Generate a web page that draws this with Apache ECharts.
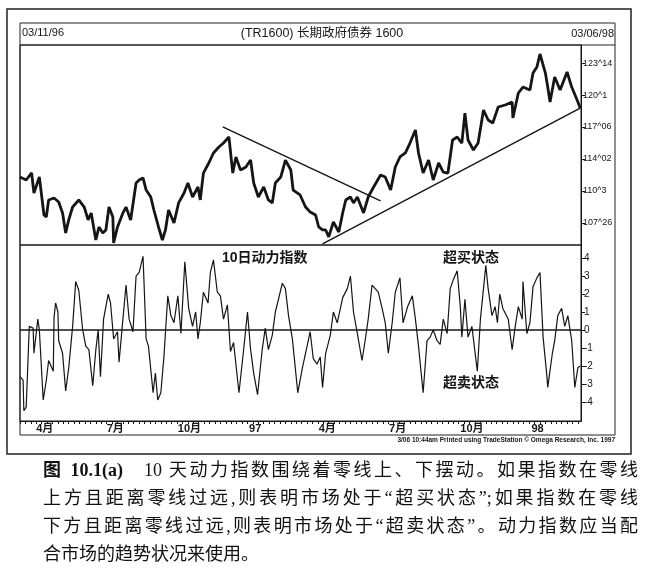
<!DOCTYPE html>
<html>
<head>
<meta charset="utf-8">
<title>10天动力指数</title>
<script src="https://cdn.jsdelivr.net/npm/echarts@6.0.0/dist/echarts.min.js"></script>
<style>
  html, body { margin: 0; padding: 0; background: #fff; }
  #wrap { position: relative; width: 646px; height: 579px; overflow: hidden; }
  #chart { position: absolute; left: 0; top: 0; width: 646px; height: 579px; }
  .cap { position: absolute; left: 43px; width: 595px; font-family: "Liberation Serif", "Noto Sans CJK SC", serif;
         font-size: 18px; line-height: 28px; height: 28px; color: #111; text-align: justify; text-align-last: justify; white-space: nowrap; }
  .cap.last { text-align-last: left; }
</style>
</head>
<body>
<div id="wrap">
  <div id="chart"></div>
  <div class="cap" style="top:456px"><b>图 10.1(a)</b>&nbsp;&nbsp; 10 天动力指数围绕着零线上、下摆动。如果指数在零线</div>
  <div class="cap" style="top:484px">上方且距离零线过远,则表明市场处于“超买状态”;如果指数在零线</div>
  <div class="cap" style="top:512px">下方且距离零线过远,则表明市场处于“超卖状态”。动力指数应当配</div>
  <div class="cap last" style="top:540px">合市场的趋势状况来使用。</div>
</div>
<script>
// x 轴: 自 1996-03-11 起的日历天数
var lastDay = 725;
var monthDays = [21, 112, 204, 296, 386, 477, 569, 661];
var monthLabels = ['4月', '7月', '10月', '97', '4月', '7月', '10月', '98'];

// 价格刻度 (1/32 报价)
var priceTicks = [107.8125, 110.9375, 114.0625, 117.1875, 120.3125, 123.4375];
var priceTickLabels = ['107^26', '110^3', '114^02', '117^06', '120^1', '123^14'];
var momTicks = [-4, -3, -2, -1, 0, 1, 2, 3, 4];

// 长期政府债券价格
var priceDays = [0,8,15,18,25,31,34,37,44,50,55,59,63,68,76,83,88,92,98,102,
  107,111,115,120,121,126,133,137,143,150,154,159,163,169,173,179,184,188,192,199,
  205,212,217,223,230,233,237,244,250,257,263,270,275,279,285,292,298,302,308,315,
  321,326,330,337,343,350,353,362,369,375,382,386,391,395,399,405,412,417,421,427,
  431,436,444,450,457,466,472,479,485,491,498,504,511,515,521,528,534,541,547,553,
  559,565,571,575,579,586,592,599,605,611,618,627,636,637,644,650,659,663,668,672,
  679,682,685,691,698,707,713,720,724];
var priceValues = [112.30,112.01,112.70,110.74,112.30,108.59,108.40,110.06,110.25,109.86,
  108.79,106.84,108.11,109.37,110.06,109.37,108.11,108.79,106.15,107.42,
  106.84,107.13,109.37,108.40,105.86,107.42,108.79,109.37,108.11,111.72,
  112.01,112.21,111.03,110.35,109.08,107.42,106.15,107.13,109.08,107.81,
  109.77,110.74,111.72,110.35,111.33,110.06,112.69,113.67,114.65,115.23,
  115.62,116.21,112.69,114.26,112.99,113.28,113.96,111.72,110.35,111.33,
  110.06,109.77,111.72,112.30,113.96,112.99,111.03,110.55,109.37,108.89,
  108.59,107.42,107.13,107.13,106.45,107.91,106.93,108.79,110.06,110.35,
  109.77,110.35,108.79,110.35,111.33,112.50,112.30,111.03,113.28,114.26,
  114.65,115.62,116.89,114.65,112.69,113.96,112.01,113.67,112.79,112.69,
  115.92,116.21,115.62,118.55,115.92,114.94,115.62,118.85,117.87,117.58,
  119.14,119.34,119.63,118.07,120.51,121.09,120.80,122.46,123.05,124.32,
  122.46,121.09,119.63,122.07,120.80,122.56,121.09,119.82,119.03];

// 趋势线 [天数, 价格]
var downTrend = [[262, 117.19], [466, 109.96]];
var upTrend = [[391, 105.76], [724, 119.04]];

// 10日动力指数
var momDays = [0,4,5,8,12,17,18,23,25,30,34,37,43,44,46,49,50,55,59,63,
  68,72,76,81,85,89,94,98,101,104,108,114,117,121,126,128,133,137,141,146,
  150,154,159,163,166,172,175,178,182,186,191,195,199,204,208,213,218,223,227,230,
  233,237,243,246,250,255,259,263,268,272,276,283,289,294,298,302,307,313,317,321,
  326,330,334,339,343,347,352,359,365,369,375,379,384,388,391,395,401,405,410,417,
  423,427,431,436,442,446,450,455,459,463,468,472,476,481,485,491,495,501,507,511,
  515,521,526,530,534,539,543,547,552,556,560,565,569,571,575,579,584,591,595,599,
  602,605,610,614,617,620,624,631,636,640,644,649,650,655,659,663,668,672,676,681,
  682,688,691,695,700,704,708,713,717,721,724];
var momValues = [-2.6,-2.8,-4.5,-4.3,0.2,0.1,-1.3,0.6,0,-3.9,
  -2.8,-1.7,-2.3,0.7,1.5,1.0,-0.6,-1.3,-3.4,-2.1,
  0.2,2.7,2.2,0,-0.9,-1.1,-3.1,-1.1,0,-2.6,
  0.6,2.0,1.5,-0.5,-0.1,-1.8,0.6,2.5,0.6,-0.1,
  3.0,3.2,4.1,-0.5,-0.9,-3.5,-2.4,-3.9,-3.5,-1.5,
  1.9,0.8,0.4,1.9,-0.2,3.8,1.2,0.2,1.0,-0.5,
  0.4,2.1,1.5,3.2,3.9,2.1,1.9,0.6,1.4,-1.2,
  -0.7,-3.5,-1.1,1.0,-1.1,-2.4,-3.6,-1.1,0.1,-1.1,
  -0.3,1.0,1.7,2.6,2.3,0.8,-0.5,-3.5,-2.1,-1.3,
  -0.1,-1.6,-1.9,-1.5,-3.2,-1.3,-0.3,1.0,0.4,1.8,
  2.3,3.0,1.0,-0.2,-1.7,-0.6,0.6,2.5,2.3,2.1,
  1.2,0.4,-1.3,0.4,2.1,2.9,0.4,1.3,1.9,0.6,
  -0.9,-3.5,-0.6,-0.4,0,-0.6,-0.8,0.6,-0.2,2.3,
  2.8,3.3,1.3,-0.4,1.7,-0.4,0.2,-2.3,0.6,2.3,
  3.6,2.3,0.8,1.3,0.4,2.0,1.2,0.6,-1.1,0.2,
  1.3,0.6,2.7,-0.2,0.4,2.4,2.9,3.2,-0.4,-2.6,
  -3.2,-1.3,-0.6,0.8,1.2,0.2,0.8,-0.6,-3.2,-2.1,-2.0];

function zip(xs, ys) {
  var out = [];
  for (var i = 0; i < xs.length; i++) out.push([xs[i], ys[i]]);
  return out;
}

// 每周一个小刻度
var weekTicks = [];
for (var d = 0; d <= lastDay; d += 7) weekTicks.push(d);

var ink = '#151515';
var latin = '"Liberation Sans", Arial, sans-serif';
var cjk = '"Liberation Sans", "Noto Sans CJK SC", sans-serif';

var myChart = echarts.init(document.getElementById('chart'), null, { renderer: 'canvas' });

var option = {
  backgroundColor: 'transparent',
  animation: false,
  grid: [
    { left: 20, top: 45, width: 561, height: 200, show: true, borderColor: ink, borderWidth: 1 },
    { left: 20, top: 245, width: 561, height: 176, show: true, borderColor: ink, borderWidth: 1 }
  ],
  xAxis: [
    { type: 'value', gridIndex: 0, min: 0, max: lastDay,
      axisLine: { show: false, onZero: false }, axisTick: { show: false }, axisLabel: { show: false }, splitLine: { show: false } },
    { type: 'value', gridIndex: 1, min: 0, max: lastDay,
      axisLine: { show: true, onZero: false, lineStyle: { color: ink, width: 1 } },
      axisTick: { show: true, length: 3, customValues: weekTicks, lineStyle: { color: ink } },
      axisLabel: { customValues: monthDays, align: 'left', margin: 2, color: ink, fontSize: 11, fontWeight: 'bold', fontFamily: cjk,
        formatter: function (v) { return monthLabels[monthDays.indexOf(v)]; } },
      splitLine: { show: false } }
  ],
  yAxis: [
    { type: 'value', gridIndex: 0, position: 'right', min: 105.66, max: 125.2,
      axisLine: { show: true, onZero: false, lineStyle: { color: ink } },
      axisTick: { show: true, length: 4, customValues: priceTicks, lineStyle: { color: ink } },
      axisLabel: { customValues: priceTicks, margin: 2, color: ink, fontSize: 9, fontFamily: latin,
        formatter: function (v) { return priceTickLabels[priceTicks.indexOf(v)]; } },
      splitLine: { show: false } },
    { type: 'value', gridIndex: 1, position: 'right', min: -5.07, max: 4.73,
      axisLine: { show: true, onZero: false, lineStyle: { color: ink } },
      axisTick: { show: true, length: 4, customValues: momTicks, lineStyle: { color: ink } },
      axisLabel: { customValues: momTicks, margin: 3, color: ink, fontSize: 10, fontFamily: latin },
      splitLine: { show: false } }
  ],
  series: [
    { name: 'TR1600', type: 'line', xAxisIndex: 0, yAxisIndex: 0, data: zip(priceDays, priceValues),
      showSymbol: false, lineStyle: { color: ink, width: 2.8 }, z: 3 },
    { name: 'down', type: 'line', xAxisIndex: 0, yAxisIndex: 0, data: downTrend,
      showSymbol: false, lineStyle: { color: ink, width: 1.4 } },
    { name: 'up', type: 'line', xAxisIndex: 0, yAxisIndex: 0, data: upTrend,
      showSymbol: false, lineStyle: { color: ink, width: 1.4 } },
    { name: '10日动力指数', type: 'line', xAxisIndex: 1, yAxisIndex: 1, data: zip(momDays, momValues),
      showSymbol: false, lineStyle: { color: ink, width: 1.2 },
      markLine: { silent: true, symbol: ['none', 'none'], label: { show: false },
        lineStyle: { color: ink, width: 1.5, type: 'solid' }, data: [{ yAxis: 0 }] } }
  ],
  graphic: [
    // 外框和内框
    { type: 'rect', shape: { x: 7, y: 9, width: 624, height: 445 }, style: { fill: 'transparent', stroke: '#222', lineWidth: 1.5 } },
    { type: 'rect', shape: { x: 20, y: 23, width: 595, height: 412 }, style: { fill: 'transparent', stroke: '#222', lineWidth: 1 } },
    { type: 'line', shape: { x1: 20, y1: 45, x2: 615, y2: 45 }, style: { stroke: '#222', lineWidth: 1 } },
    // 标题栏
    { type: 'text', left: 22, top: 27, style: { text: '03/11/96', fontSize: 11, fontFamily: latin, fill: ink } },
    { type: 'text', x: 322, y: 34, style: { text: '(TR1600) 长期政府债券 1600', fontSize: 12.5, fontFamily: cjk, fill: ink, align: 'center', verticalAlign: 'middle' } },
    { type: 'text', x: 614, y: 34, style: { text: '03/06/98', fontSize: 11, fontFamily: latin, fill: ink, align: 'right', verticalAlign: 'middle' } },
    // 注释
    { type: 'text', x: 222, y: 258, style: { text: '10日动力指数', fontSize: 14, fontWeight: 'bold', fontFamily: cjk, fill: ink, verticalAlign: 'middle' } },
    { type: 'text', x: 443, y: 258, style: { text: '超买状态', fontSize: 14, fontWeight: 'bold', fontFamily: cjk, fill: ink, verticalAlign: 'middle' } },
    { type: 'text', x: 443, y: 383, style: { text: '超卖状态', fontSize: 14, fontWeight: 'bold', fontFamily: cjk, fill: ink, verticalAlign: 'middle' } },
    // 页脚
    { type: 'text', x: 615, y: 440, style: { text: '3/06 10:44am Printed using TradeStation © Omega Research, Inc. 1997', fontSize: 6.5, fontWeight: 'bold', fontFamily: latin, fill: ink, align: 'right', verticalAlign: 'middle' } }
  ]
};
myChart.setOption(option);
</script>
</body>
</html>
